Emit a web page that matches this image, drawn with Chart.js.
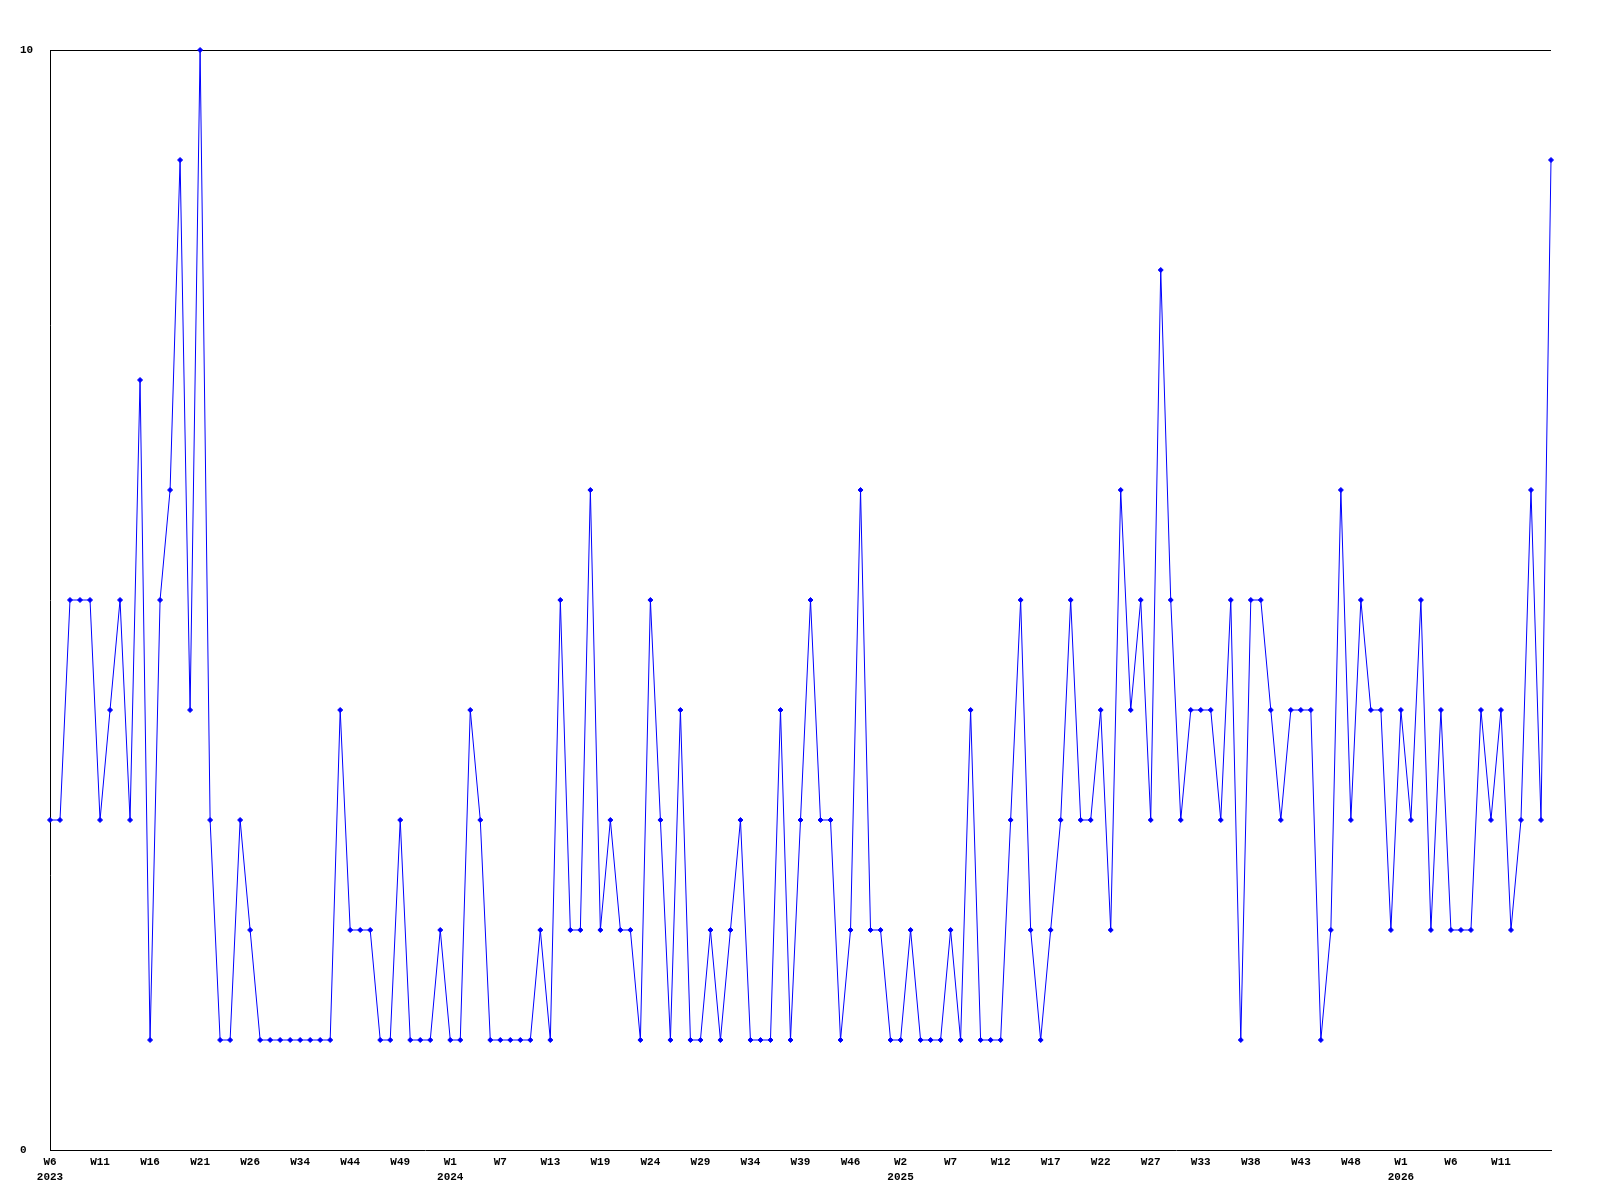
<!DOCTYPE html>
<html>
<head>
    <title>Weekly count</title>
    <script src="https://cdn.jsdelivr.net/npm/chart.js"></script>
    <style>
        html, body { margin: 0; padding: 0; background: #fff; }
        .chart-container { width: 1600px; height: 1200px; }
    </style>
</head>
<body>
    <div class="chart-container">
        <canvas id="weeklyChart"></canvas>
    </div>
<script>
    // week numbers that have a data point, per year
    const weeks2023 = [6, 7, 8, 9, 10, 11, 12, 13, 14, 15, 16, 17, 18, 19, 20, 21, 22, 23, 24, 25,
                       26, 27, 28, 30, 32, 34, 36, 38, 40, 42, 44, 45, 46, 47, 48, 49, 50, 51, 52, 53];
    const weeks2024 = [1, 2, 3, 4, 6, 7, 8, 9, 11, 12, 13, 14, 15, 16, 18, 19, 20, 21, 22, 23,
                       24, 25, 26, 27, 28, 29, 30, 31, 32, 33, 34, 35, 36, 37, 38, 39, 40, 42, 43, 45,
                       46, 47, 48, 50, 51];
    const weeks2025 = [2, 3, 4, 5, 6, 7, 8, 9, 10, 11, 12, 13, 14, 15, 16, 17, 18, 19, 20, 21,
                       22, 23, 24, 25, 26, 27, 28, 29, 30, 32, 33, 34, 35, 36, 37, 38, 39, 40, 41, 42,
                       43, 44, 45, 46, 47, 48, 49, 50, 51, 52];
    const weeks2026 = [1, 2, 3, 4, 5, 6, 7, 8, 9, 10, 11, 12, 13, 14, 15, 16];

    const counts = [
        3, 3, 5, 5, 5, 3, 4, 5, 3, 7, 1, 5, 6, 9, 4, 10, 3, 1, 1, 3, 2, 1, 1, 1, 1,
        1, 1, 1, 1, 4, 2, 2, 2, 1, 1, 3, 1, 1, 1, 2, 1, 1, 4, 3, 1, 1, 1, 1, 1, 2,
        1, 5, 2, 2, 6, 2, 3, 2, 2, 1, 5, 3, 1, 4, 1,
        1, 2, 1, 2, 3, 1, 1, 1, 4, 1, 3, 5, 3, 3, 1,
        2, 6, 2, 2, 1, 1, 2, 1, 1, 1, 2, 1, 4, 1,
        1, 1, 3, 5, 2, 1, 2, 3, 5, 3, 3, 4, 2, 6,
        4, 5, 3, 8, 5, 3, 4, 4, 4, 3, 5, 1, 5, 5,
        4, 3, 4, 4, 4, 1, 2, 6, 3, 5, 4, 4, 2, 4,
        3, 5, 2, 4, 2, 2, 2, 4, 3, 4, 2, 3, 6, 3, 9
    ];

    const yMin = 0;
    const yMax = 10;
    const labelEvery = 5;

    const labels = [];
    [[2023, weeks2023], [2024, weeks2024], [2025, weeks2025], [2026, weeks2026]].forEach(([year, weeks]) => {
        weeks.forEach(w => labels.push(year + '-W' + w));
    });

    const tickFont = { family: '"Liberation Mono", "DejaVu Sans Mono", monospace', size: 11, weight: 'bold', lineHeight: 1.35 };

    new Chart(document.getElementById('weeklyChart').getContext('2d'), {
        type: 'line',
        data: {
            labels: labels,
            datasets: [{
                data: counts,
                borderColor: '#0000ff',
                borderWidth: 1,
                backgroundColor: '#0000ff',
                pointStyle: 'rectRot',
                pointRadius: 2.5,
                pointBorderWidth: 1,
                pointBackgroundColor: '#0000ff',
                pointBorderColor: '#0000ff',
                tension: 0,
                fill: false,
                clip: false
            }]
        },
        options: {
            responsive: true,
            maintainAspectRatio: false,
            animation: false,
            layout: { padding: { left: 20, top: 50, right: 49, bottom: 0 } },
            plugins: {
                legend: { display: false },
                tooltip: { enabled: false }
            },
            scales: {
                x: {
                    grid: { display: false, drawTicks: false },
                    border: { display: true, color: '#000', width: 1 },
                    afterFit: scale => { scale.height = 50; },
                    ticks: {
                        autoSkip: false,
                        maxRotation: 0,
                        minRotation: 0,
                        padding: 5,
                        color: '#000',
                        font: tickFont,
                        callback: function (value, index) {
                            if (index % labelEvery !== 0 || index === labels.length - 1) return null;
                            const [year, week] = labels[index].split('-');
                            const prevYear = index >= labelEvery ? labels[index - labelEvery].split('-')[0] : null;
                            return year !== prevYear ? [week, year] : week;
                        }
                    }
                },
                y: {
                    min: yMin,
                    max: yMax,
                    afterFit: scale => { scale.width = 30; },
                    grid: {
                        drawTicks: false,
                        lineWidth: 1,
                        color: ctx => (ctx.tick && ctx.tick.value === yMax) ? '#000' : 'rgba(0,0,0,0)'
                    },
                    border: { display: true, color: '#000', width: 1 },
                    ticks: {
                        stepSize: yMax - yMin,
                        crossAlign: 'far',
                        padding: 0,
                        color: '#000',
                        font: tickFont
                    }
                }
            }
        }
    });
</script>
</body>
</html>
